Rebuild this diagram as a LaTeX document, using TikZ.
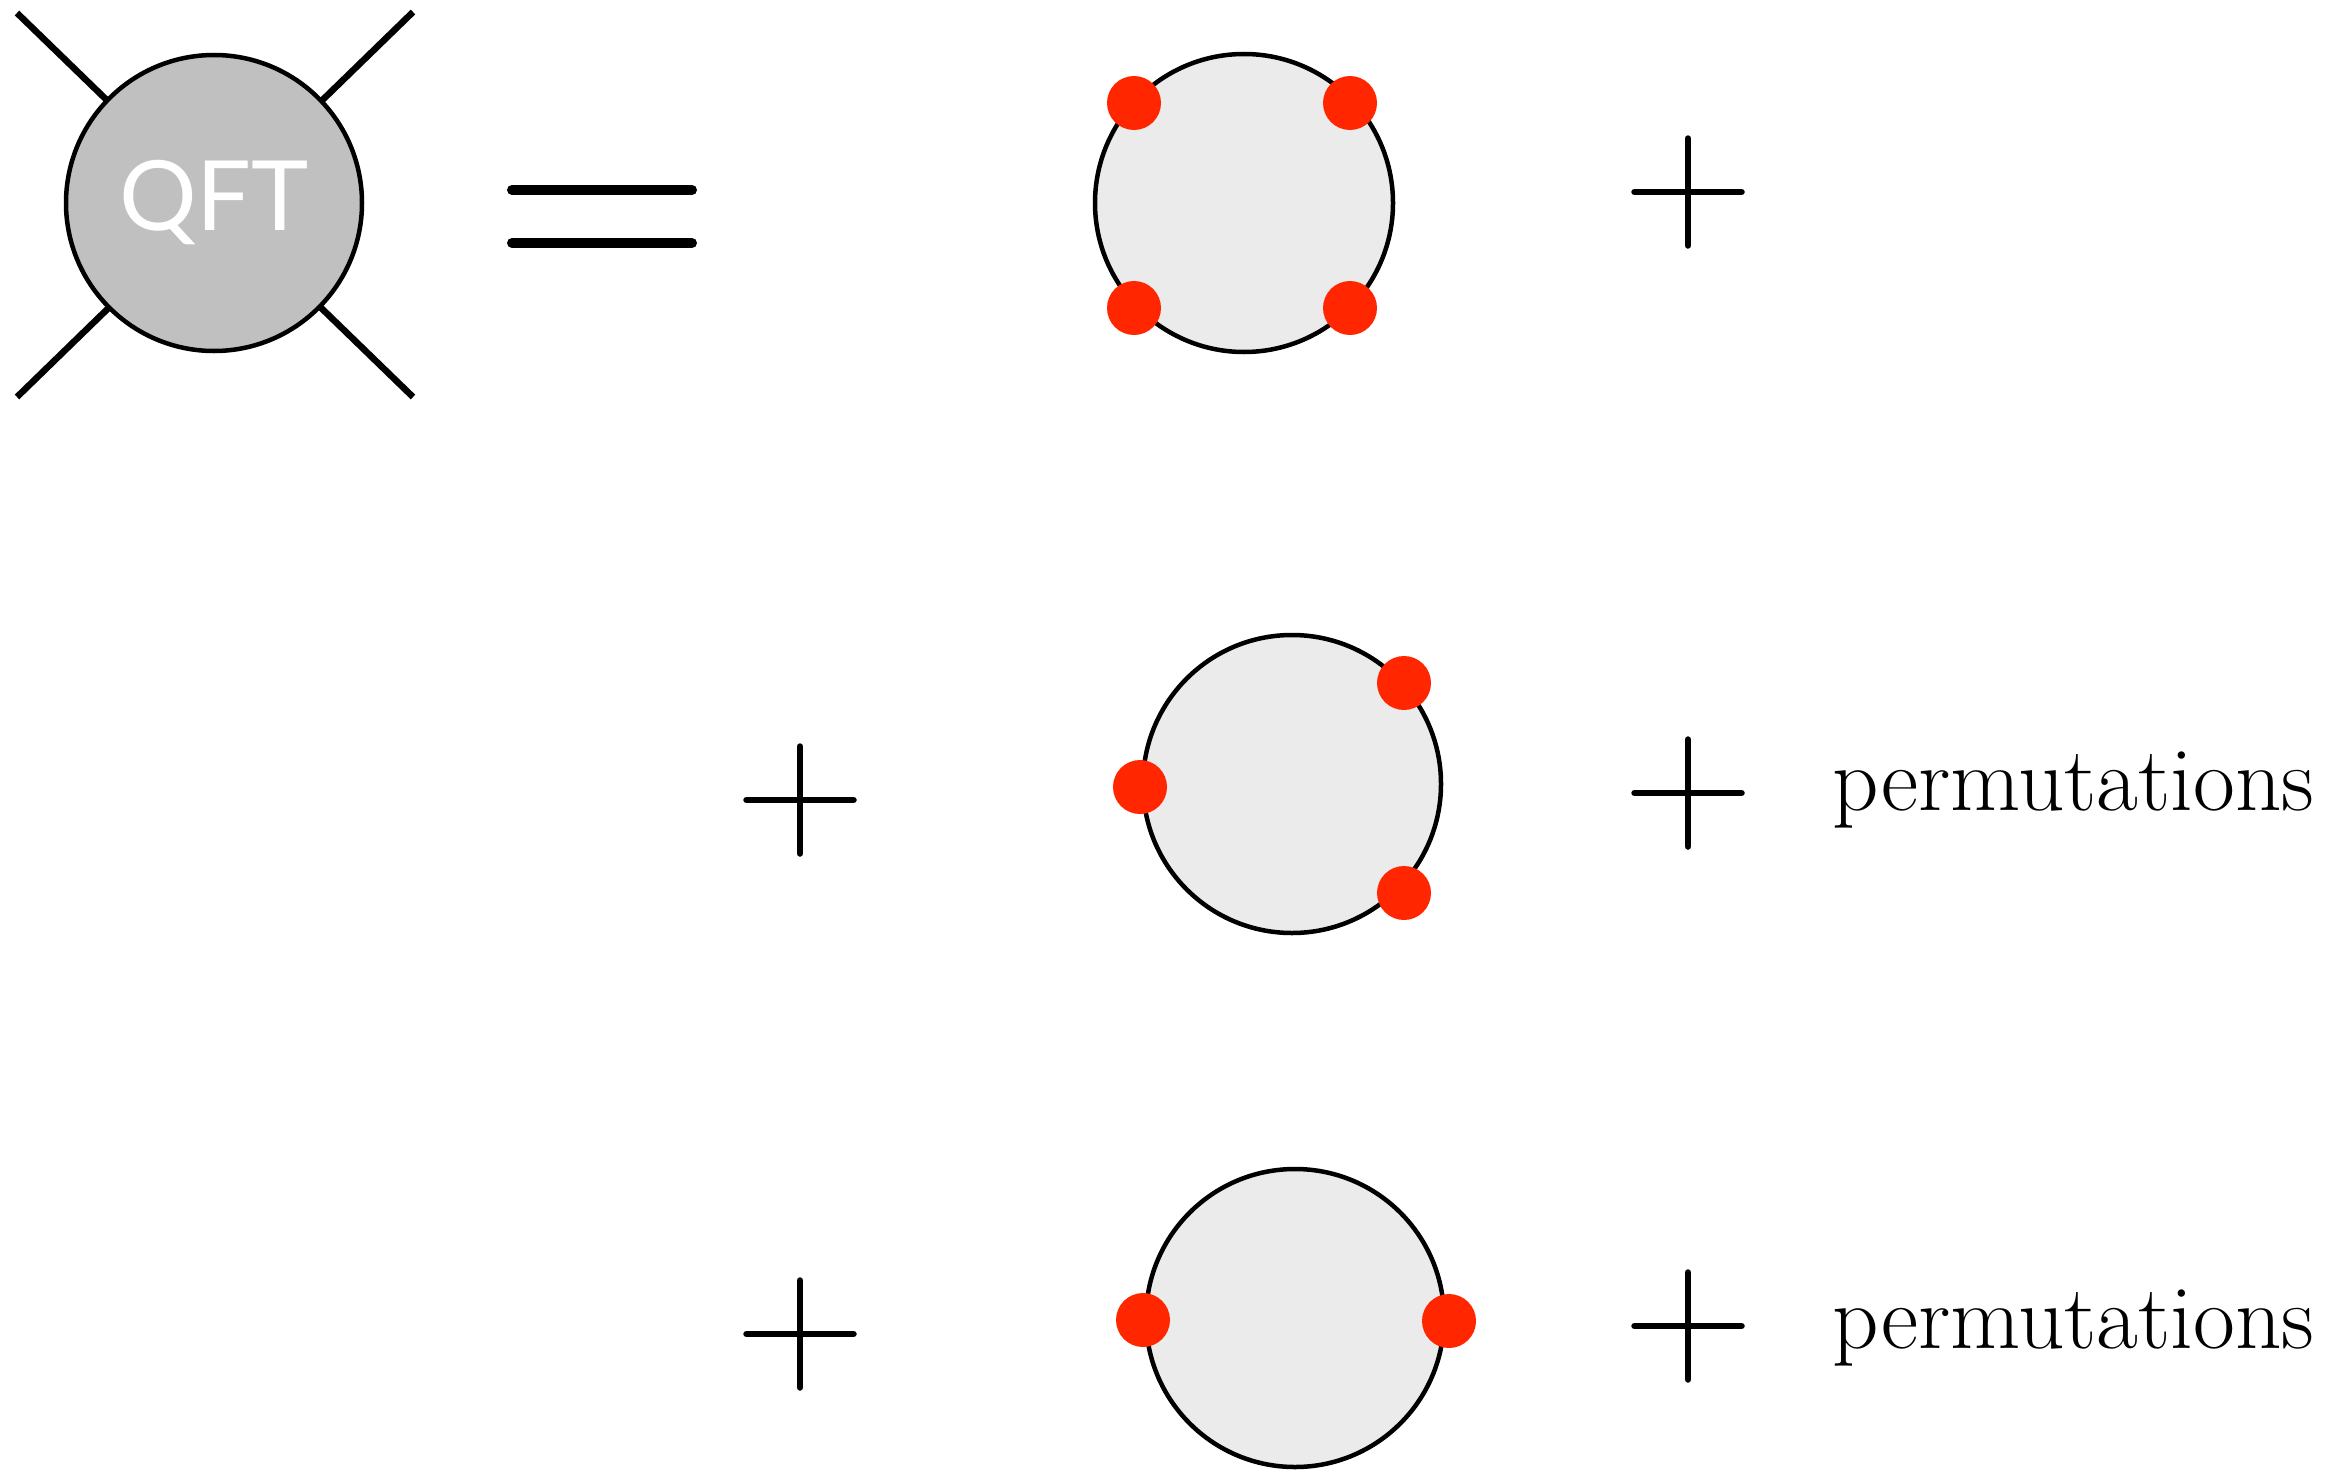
\documentclass[tikz,border=0pt]{standalone}
\usepackage{fontspec}
\newfontfamily\qftfont{Lato}
\definecolor{dotred}{RGB}{255,38,0}
\definecolor{blobgray}{RGB}{192,192,192}
\definecolor{lightblob}{RGB}{235,235,235}
\begin{document}
\begin{tikzpicture}[x=1pt,y=-1pt,
  leg/.style={line width=6.5pt},
  bigblob/.style={circle,draw=black,line width=4.5pt,fill=blobgray,minimum size=296pt,inner sep=0pt},
  blob/.style={circle,draw=black,line width=4.5pt,fill=lightblob,minimum size=298pt,inner sep=0pt},
  reddot/.style={circle,fill=dotred,minimum size=54pt,inner sep=0pt},
  eqline/.style={line width=10pt,line cap=round},
  plusline/.style={line width=6.5pt,line cap=round},
  permtext/.style={anchor=base west,inner sep=0pt,font=\fontsize{91}{100}\selectfont},
  plussign/.pic={\draw[plusline] (-53.5,0) -- (53.5,0); \draw[plusline] (0,-53.5) -- (0,53.5);}
]
\useasboundingbox (0,0) rectangle (2337,1472);
% QFT blob with legs
\coordinate (tl) at (17,13);
\coordinate (br) at (413,397);
\coordinate (tr) at (413,12);
\coordinate (bl) at (17,397);
\draw[leg] (tl) -- (br);
\draw[leg] (tr) -- (bl);
\node[bigblob] (qft) at (214,203) {};
\node[text=white,font=\qftfont\fontsize{97}{100}\selectfont] (qftlabel) at (214,203) {QFT};
% equals
\coordinate (e1a) at (512,190); \coordinate (e1b) at (692,190);
\coordinate (e2a) at (512,243); \coordinate (e2b) at (692,243);
\draw[eqline] (e1a) -- (e1b);
\draw[eqline] (e2a) -- (e2b);
% row 1
\node[blob] (c1) at (1244,203) {};
\node[reddot] (d11) at (1134,103) {};
\node[reddot] (d12) at (1350,103) {};
\node[reddot] (d13) at (1134,308) {};
\node[reddot] (d14) at (1350,308) {};
\pic at (1688,192) {plussign};
% row 2
\pic at (800,800) {plussign};
\node[blob] (c2) at (1292,784) {};
\node[reddot] (d21) at (1404,683) {};
\node[reddot] (d22) at (1140,787) {};
\node[reddot] (d23) at (1404,893) {};
\pic at (1688,793) {plussign};
\node[permtext] (perm2) at (1832,810) {permutations};
% row 3
\pic at (800,1334) {plussign};
\node[blob] (c3) at (1295,1318) {};
\node[reddot] (d31) at (1143,1320) {};
\node[reddot] (d32) at (1449,1321) {};
\pic at (1688,1326) {plussign};
\node[permtext] (perm3) at (1832,1348) {permutations};
\end{tikzpicture}
\end{document}
